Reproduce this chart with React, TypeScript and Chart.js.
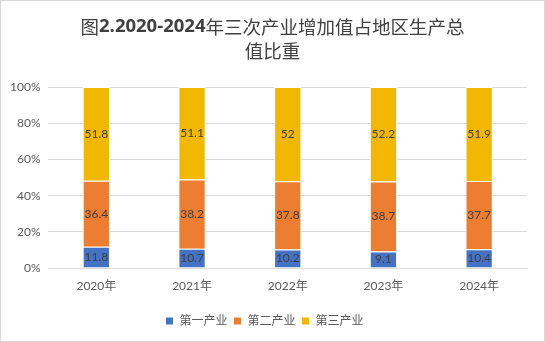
import React, { useEffect, useRef } from "react";
import { Chart, registerables } from "chart.js";

Chart.register(...registerables);

const categories = ["2020年", "2021年", "2022年", "2023年", "2024年"];
const primary = [11.8, 10.7, 10.2, 9.1, 10.4];
const secondary = [36.4, 38.2, 37.8, 38.7, 37.7];
const tertiary = [51.8, 51.1, 52, 52.2, 51.9];
const seriesNames = ["第一产业", "第二产业", "第三产业"];
// title segments: [text, bold]
const titleLine1: [string, boolean][] = [
  ["图", false],
  ["2.2020-2024", true],
  ["年三次产业增加值占地区生产总", false],
];
const titleLine2: [string, boolean][] = [["值比重", false]];

const FONT = "Lato, 'Noto Sans CJK SC', sans-serif";
const TITLE_SIZE = 18.5;
const TITLE_LH = 1.3;
const TITLE_PAD_TOP = 14;

const labelPlugin = {
  id: "barLabels",
  afterDatasetsDraw(chart: any) {
    const ctx = chart.ctx;
    ctx.save();
    ctx.font = `12px ${FONT}`;
    ctx.fillStyle = "#404040";
    ctx.textAlign = "center";
    ctx.textBaseline = "middle";
    chart.data.datasets.forEach((ds: any, i: number) => {
      const meta = chart.getDatasetMeta(i);
      meta.data.forEach((bar: any, j: number) => {
        const y = (bar.y + bar.base) / 2;
        ctx.fillText(String(ds.data[j]), bar.x, y);
      });
    });
    ctx.restore();
  },
};

const bgPlugin = {
  id: "bg",
  beforeDraw(chart: any) {
    const ctx = chart.ctx;
    ctx.save();
    ctx.fillStyle = "#ffffff";
    ctx.fillRect(0, 0, chart.width, chart.height);
    ctx.restore();
  },
};

const titlePlugin = {
  id: "mixedTitle",
  afterDraw(chart: any) {
    const ctx = chart.ctx;
    const tb = chart.titleBlock;
    const top = tb ? tb.top : 0;
    const lineH = TITLE_SIZE * TITLE_LH;
    const fontOf = (bold: boolean) =>
      bold
        ? `bold ${TITLE_SIZE}px 'Open Sans', Lato, sans-serif`
        : `${TITLE_SIZE}px 'Noto Sans CJK SC', sans-serif`;
    ctx.save();
    ctx.fillStyle = "#404040";
    ctx.textBaseline = "middle";
    ctx.textAlign = "left";
    [titleLine1, titleLine2].forEach((segs, i) => {
      let total = 0;
      const widths = segs.map(([t, b]) => {
        ctx.font = fontOf(b);
        const w = ctx.measureText(t).width;
        total += w;
        return w;
      });
      let x = (chart.width - total) / 2;
      const y = top + TITLE_PAD_TOP + lineH * (i + 0.5);
      segs.forEach(([t, b], k) => {
        ctx.font = fontOf(b);
        ctx.fillText(t, x, y);
        x += widths[k];
      });
    });
    ctx.restore();
  },
};

export default function App() {
  const ref = useRef<HTMLCanvasElement>(null);
  useEffect(() => {
    if (!ref.current) return;
    const mk = (label: string, data: number[], color: string) => ({
      label,
      data,
      backgroundColor: color,
      borderColor: "#ffffff",
      borderWidth: 1,
      barPercentage: 0.285,
      categoryPercentage: 1,
    });
    const chart = new Chart(ref.current, {
      type: "bar",
      data: {
        labels: categories,
        datasets: [
          mk(seriesNames[0], primary, "#4472C4"),
          mk(seriesNames[1], secondary, "#ED7D31"),
          mk(seriesNames[2], tertiary, "#F2B800"),
        ],
      },
      options: {
        animation: false,
        responsive: false,
        layout: { padding: { left: 1, right: 17, top: 0, bottom: 4 } },
        plugins: {
          title: {
            display: true,
            text: [titleLine1.map((s) => s[0]).join(""), titleLine2.map((s) => s[0]).join("")],
            color: "rgba(0,0,0,0)",
            font: { size: TITLE_SIZE, family: "'Noto Sans CJK SC', sans-serif", lineHeight: TITLE_LH },
            padding: { top: TITLE_PAD_TOP, bottom: 24 },
          },
          legend: {
            position: "bottom",
            labels: {
              boxWidth: 8,
              boxHeight: 8,
              color: "#595959",
              font: { size: 12, family: FONT },
              padding: 6,
            },
          },
          tooltip: { enabled: false },
        },
        scales: {
          x: {
            stacked: true,
            grid: { display: false },
            border: { color: "#d9d9d9" },
            ticks: { color: "#595959", font: { size: 12, family: FONT }, padding: 3 },
            afterFit: (scale: any) => {
              scale.height = 41;
            },
          },
          y: {
            stacked: true,
            min: 0,
            max: 100,
            border: { display: false },
            grid: { color: "#d9d9d9", drawTicks: false },
            ticks: {
              stepSize: 20,
              color: "#595959",
              font: { size: 12, family: FONT },
              padding: 8,
              callback: (v: any) => v + "%",
            },
          },
        },
      },
      plugins: [bgPlugin, labelPlugin, titlePlugin],
    });
    return () => chart.destroy();
  }, []);
  return (
    <div
      style={{
        position: "absolute",
        left: 0,
        top: 0,
        width: 545,
        height: 342,
        boxSizing: "border-box",
        border: "1px solid #d9d9d9",
        background: "#fff",
      }}
    >
      <canvas ref={ref} width={543} height={340} style={{ display: "block" }} />
    </div>
  );
}
